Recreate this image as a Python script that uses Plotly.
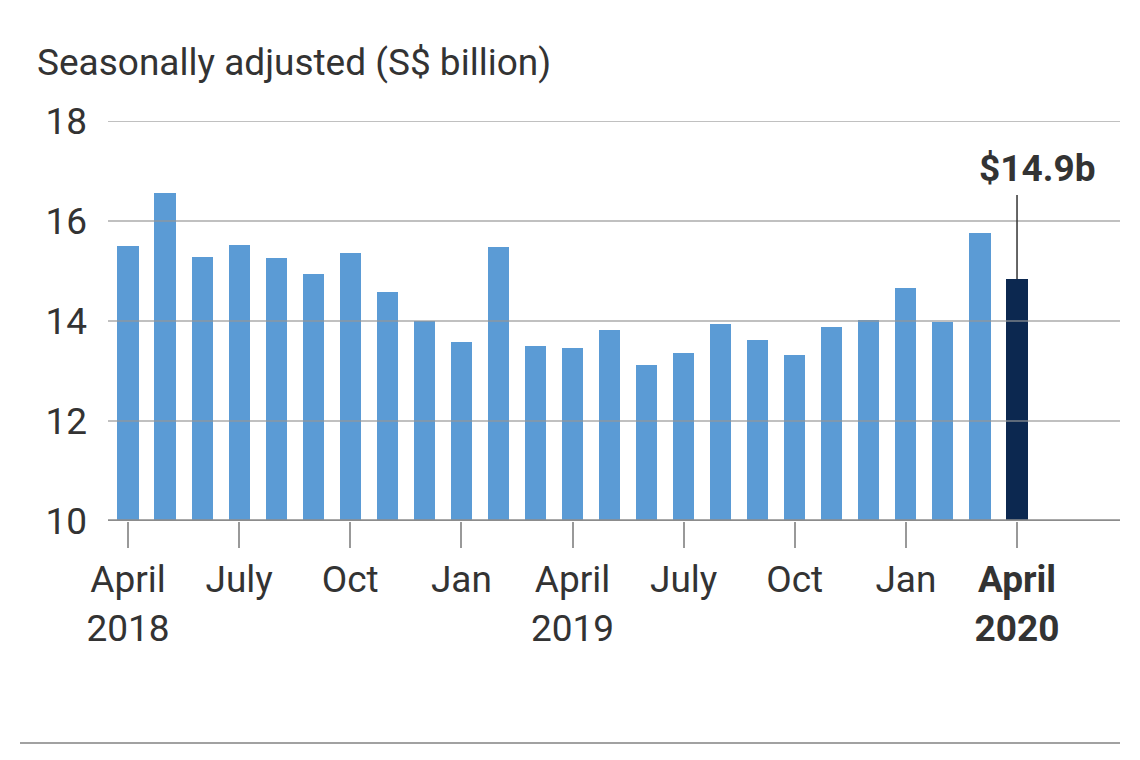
import plotly.graph_objects as go

months = ["Apr 2018", "May 2018", "Jun 2018", "Jul 2018", "Aug 2018", "Sep 2018",
          "Oct 2018", "Nov 2018", "Dec 2018", "Jan 2019", "Feb 2019", "Mar 2019",
          "Apr 2019", "May 2019", "Jun 2019", "Jul 2019", "Aug 2019", "Sep 2019",
          "Oct 2019", "Nov 2019", "Dec 2019", "Jan 2020", "Feb 2020", "Mar 2020",
          "Apr 2020"]
values = [15.5, 16.56, 15.28, 15.52, 15.26, 14.94, 15.36, 14.58, 14.0, 13.58,
          15.48, 13.5, 13.46, 13.82, 13.12, 13.36, 13.94, 13.62, 13.32, 13.88,
          14.02, 14.66, 13.98, 15.76, 14.84]
tick_idx = [0, 3, 6, 9, 12, 15, 18, 21, 24]
tick_text = ["April<br>2018", "July", "Oct", "Jan", "April<br>2019", "July", "Oct",
             "Jan", "<b>April<br>2020</b>"]
y_ticks = [10, 12, 14, 16, 18]
highlight_label = "$14.9b"

LIGHT = "#5b9bd5"
DARK = "#0c2850"
TEXT = "#333333"
FONT = "Roboto"

x = list(range(len(values)))
colors = [LIGHT] * (len(values) - 1) + [DARK]

fig = go.Figure(go.Bar(x=x, y=values, marker=dict(color=colors, line=dict(width=0)),
                       width=0.57, hoverinfo="skip"))

shapes = []
for t in y_ticks[1:]:
    shapes.append(dict(type="line", xref="paper", yref="y", x0=0, x1=1, y0=t, y1=t,
                       line=dict(color="rgba(150,150,150,0.8)", width=1.5), layer="above"))
# baseline
shapes.append(dict(type="line", xref="paper", yref="y", x0=0, x1=1, y0=10, y1=10,
                   line=dict(color="#8c8c8c", width=3.5), layer="above"))
# pointer line for last bar
shapes.append(dict(type="line", xref="x", yref="y", x0=x[-1], x1=x[-1],
                   y0=values[-1], y1=16.52, line=dict(color="#333333", width=1.5),
                   layer="above"))
# bottom rule
shapes.append(dict(type="line", xref="paper", yref="paper", x0=-0.087, x1=1.0,
                   y0=-0.555, y1=-0.555, line=dict(color="#444444", width=1.2)))

annotations = [
    dict(text="Seasonally adjusted (S$ billion)", xref="paper", yref="paper",
         x=-0.0721, y=1.1475, xanchor="left", yanchor="middle", showarrow=False,
         font=dict(family=FONT, size=37, color=TEXT)),
    dict(text="<b>" + highlight_label + "</b>", xref="x", yref="y", x=x[-1], y=17.05,
         xanchor="center", yanchor="middle", xshift=19.5, showarrow=False,
         font=dict(family=FONT, size=37, color=TEXT)),
]

fig.update_layout(
    width=1140, height=760,
    margin=dict(l=100, r=28, t=113, b=247),
    paper_bgcolor="white", plot_bgcolor="white",
    showlegend=False, bargap=0,
    shapes=shapes, annotations=annotations,
    font=dict(family=FONT, color=TEXT),
    xaxis=dict(range=[-0.54, 26.78], tickmode="array", tickvals=tick_idx,
               ticktext=tick_text, ticks="outside", ticklen=26, tickwidth=2,
               tickcolor="#999999", showgrid=False, zeroline=False, showline=False,
               tickfont=dict(family=FONT, size=37, color=TEXT)),
    yaxis=dict(range=[10, 18], tickmode="array", tickvals=y_ticks, ticks="",
               showgrid=False, zeroline=False, showline=False, ticklabelstandoff=20,
               tickfont=dict(family=FONT, size=37, color=TEXT)),
)

fig.write_html("out.html")
